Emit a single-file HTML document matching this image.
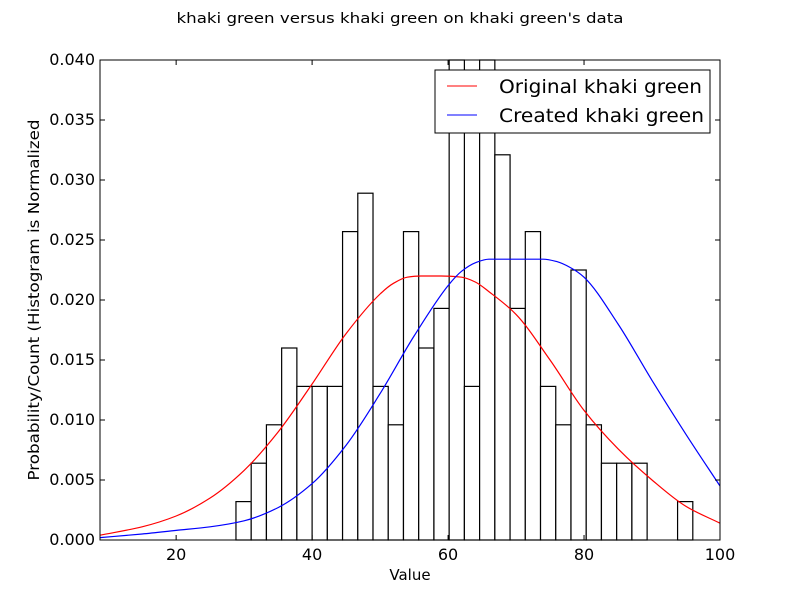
<!DOCTYPE html>
<html><head><meta charset="utf-8"><style>
body{margin:0;background:#fff}
svg{font-family:"DejaVu Sans","Liberation Sans",sans-serif}
</style></head><body>
<svg id="c" width="800" height="600" xmlns="http://www.w3.org/2000/svg">
<rect width="800" height="600" fill="#fff"/>
<text x="400" y="23" text-anchor="middle" font-size="14" textLength="447" lengthAdjust="spacingAndGlyphs">khaki green versus khaki green on khaki green's data</text>
<g id="bars"></g>
<g id="lines"></g>
<rect x="100" y="60" width="620" height="480" fill="none" stroke="#000" stroke-width="1"/>
<g id="ticks"></g>
<text x="410" y="580" text-anchor="middle" font-size="15">Value</text>
<text transform="translate(39,300) rotate(-90)" text-anchor="middle" font-size="15" textLength="361" lengthAdjust="spacingAndGlyphs">Probability/Count (Histogram is Normalized</text>
<g>
<rect x="435" y="70" width="275" height="63" fill="#fff" stroke="#000"/>
<line x1="447" y1="86" x2="477" y2="86" stroke="red"/>
<text x="499" y="93" font-size="19" textLength="203" lengthAdjust="spacingAndGlyphs">Original khaki green</text>
<line x1="447" y1="115" x2="477" y2="115" stroke="blue"/>
<text x="499" y="122" font-size="19" textLength="205" lengthAdjust="spacingAndGlyphs">Created khaki green</text>
</g>
</svg>
<script>
const binStart = 28.8;
const binWidth = 2.24;
const binValues = [0.0032,0.0064,0.0096,0.016,0.0128,0.0128,0.0128,0.0257,0.0289,0.0128,0.0096,0.0257,0.016,0.0193,0.0449,0.0128,0.0418,0.0321,0.0193,0.0257,0.0128,0.0096,0.0225,0.0096,0.0064,0.0064,0.0064,0,0,0.0032];
const curveX = [8.8,15,20,25,30,35,40,45,50,52,54,56,59,62,64,66,70,75,80,85,90,95,100];
const originalY = [0.0004,0.0011,0.0020,0.0035,0.0058,0.0090,0.0130,0.0172,0.0205,0.0214,0.0219,0.0220,0.0220,0.0219,0.0215,0.0207,0.0188,0.0150,0.0108,0.0076,0.0050,0.0028,0.0014];
const curveX2 = [8.8,15,20,25,30,35,40,45,50,55,60,62,64,66,70,74,76,78,80,85,90,95,100];
const createdY = [0.0002,0.0005,0.0008,0.0011,0.0016,0.0027,0.0047,0.0079,0.0122,0.0170,0.0212,0.0224,0.0231,0.0234,0.0234,0.0234,0.0232,0.0227,0.0219,0.0180,0.0133,0.0088,0.0045];
const xTicks = [20,40,60,80,100];
const yTicks = [0,0.005,0.01,0.015,0.02,0.025,0.03,0.035,0.04];
const yTickLabels = ["0.000","0.005","0.010","0.015","0.020","0.025","0.030","0.035","0.040"];
const NS="http://www.w3.org/2000/svg";
const X0=100,X1=720,Y0=540,Y1=60,xmin=8.8,xmax=100,ymax=0.04;
const sx=v=>X0+(v-xmin)/(xmax-xmin)*(X1-X0);
const sy=v=>Y0-v/ymax*(Y0-Y1);
function mk(t,a,p){const e=document.createElementNS(NS,t);for(const k in a)e.setAttribute(k,a[k]);p.appendChild(e);return e;}
const bars=document.getElementById('bars');
binValues.forEach((v,i)=>{if(v<=0)return;
 const x=sx(binStart+i*binWidth),w=sx(binStart+(i+1)*binWidth)-x;
 const top=Math.max(sy(v),Y1);
 const r=mk('rect',{x:x,y:top,width:w,height:Y0-top,fill:'#fff',stroke:'#000','stroke-width':1.2},bars);
 
 
});
function path(xs,ys){
 const n=xs.length,px=xs.map(sx),py=ys.map(sy),d=[],m=[];
 for(let i=0;i<n-1;i++)d.push((py[i+1]-py[i])/(px[i+1]-px[i]));
 m[0]=d[0];m[n-1]=d[n-2];
 for(let i=1;i<n-1;i++)m[i]=(d[i-1]*d[i]<=0)?0:2/(1/d[i-1]+1/d[i]);
 let s='M'+px[0]+','+py[0];
 for(let i=0;i<n-1;i++){const h=(px[i+1]-px[i])/3;
  s+=` C${px[i]+h},${py[i]+m[i]*h} ${px[i+1]-h},${py[i+1]-m[i+1]*h} ${px[i+1]},${py[i+1]}`;}
 return s;}
const lines=document.getElementById('lines');
const l1=mk('path',{d:path(curveX,originalY),fill:'none',stroke:'red','stroke-width':1.2},lines);


const l2=mk('path',{d:path(curveX2,createdY),fill:'none',stroke:'blue','stroke-width':1.2},lines);


const tk=document.getElementById('ticks');
xTicks.forEach(v=>{const x=sx(v);
 mk('line',{x1:x,y1:Y0,x2:x,y2:Y0-5,stroke:'#000'},tk);mk('line',{x1:x,y1:Y1,x2:x,y2:Y1+5,stroke:'#000'},tk);
 const t=mk('text',{x:x,y:Y0+20,'text-anchor':'middle','font-size':16},tk);t.textContent=v;
 
 
});
yTicks.forEach((v,i)=>{const y=sy(v);
 mk('line',{x1:X0,y1:y,x2:X0+5,y2:y,stroke:'#000'},tk);mk('line',{x1:X1,y1:y,x2:X1-5,y2:y,stroke:'#000'},tk);
 const t=mk('text',{x:X0-5,y:y+5,'text-anchor':'end','font-size':16},tk);t.textContent=yTickLabels[i];
 
 
});
</script>
</body></html>
